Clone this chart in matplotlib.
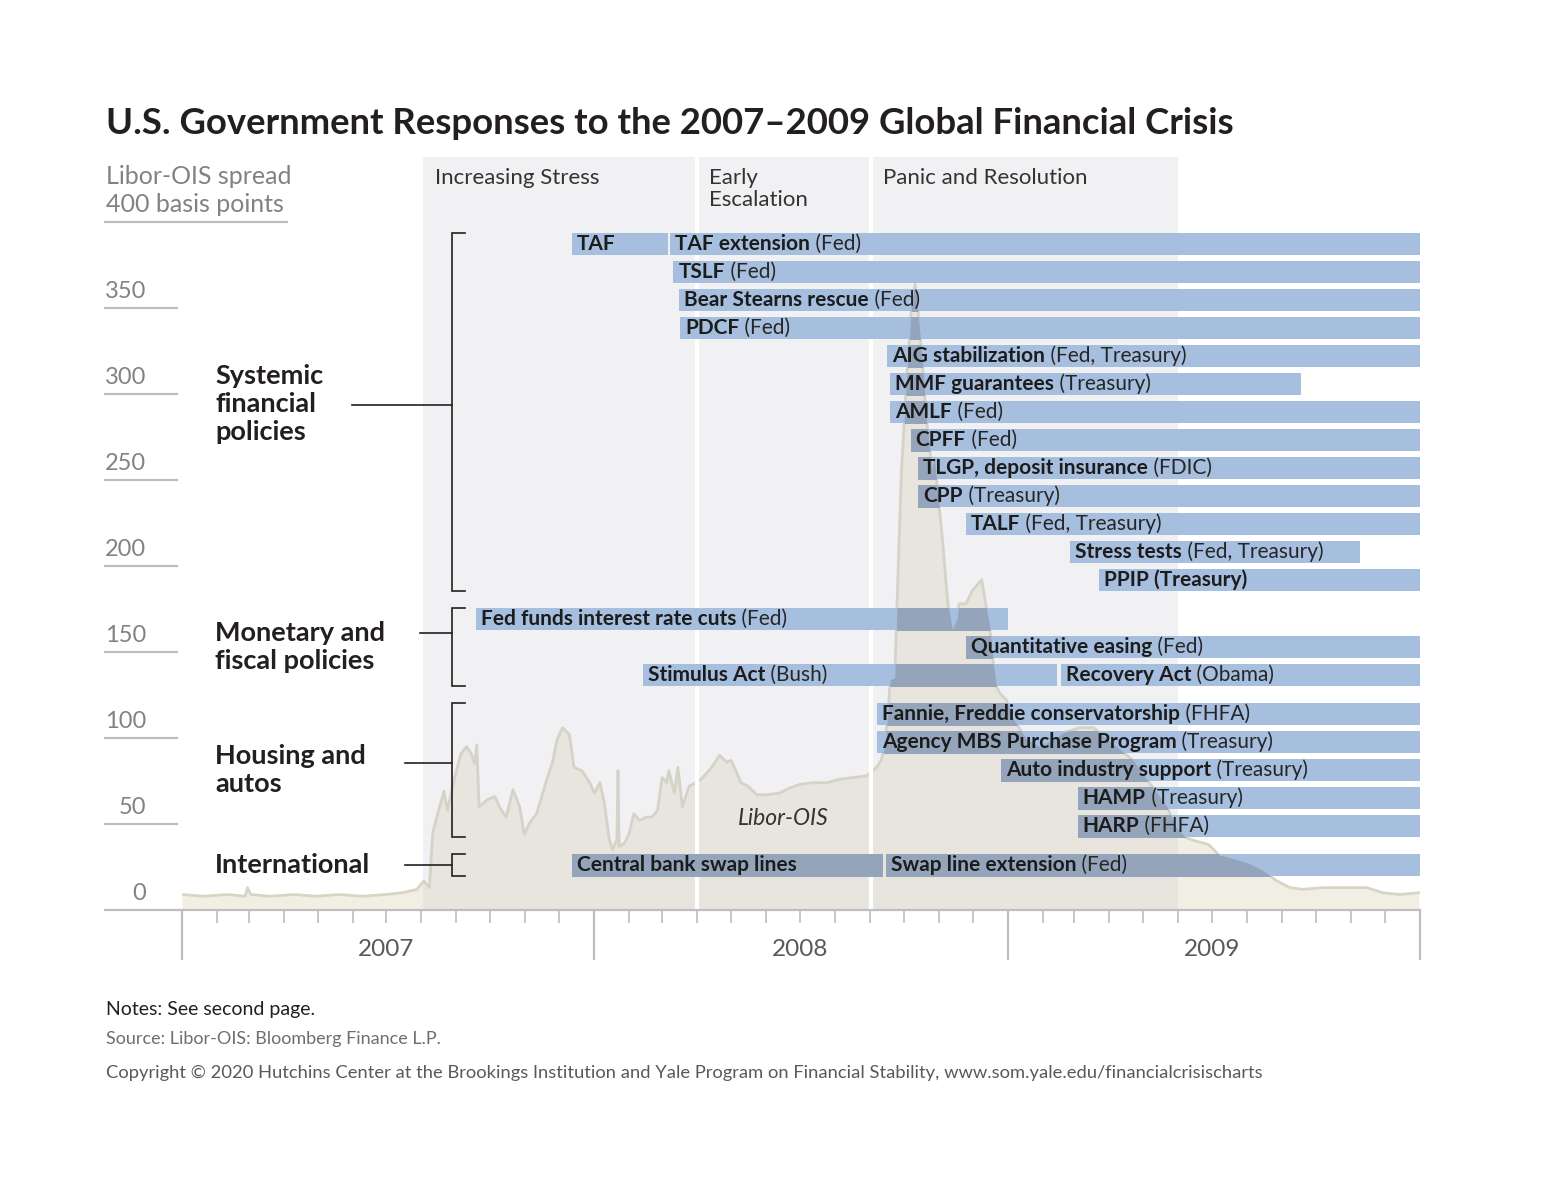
import matplotlib
matplotlib.use("Agg")
import matplotlib.pyplot as plt
import matplotlib.dates as mdates
from matplotlib.patches import Rectangle
from matplotlib.transforms import IdentityTransform, blended_transform_factory
import pandas as pd

plt.rcParams['font.family'] = ['Lato', 'DejaVu Sans']

# ===== Libor-OIS spread, basis points =====
libor_dates = [
    "2007-01-01", "2007-01-20", "2007-02-10", "2007-02-26", "2007-02-28", "2007-03-03",
    "2007-03-20", "2007-04-10", "2007-04-30", "2007-05-20", "2007-06-10", "2007-06-30",
    "2007-07-15", "2007-07-28", "2007-08-03", "2007-08-08", "2007-08-11", "2007-08-17",
    "2007-08-21", "2007-08-24", "2007-08-30", "2007-09-05", "2007-09-10", "2007-09-14",
    "2007-09-17", "2007-09-19", "2007-09-21", "2007-09-28", "2007-10-05", "2007-10-09",
    "2007-10-15", "2007-10-21", "2007-10-27", "2007-10-31", "2007-11-05", "2007-11-11",
    "2007-11-20", "2007-11-25", "2007-11-29", "2007-12-04", "2007-12-10", "2007-12-14",
    "2007-12-21", "2007-12-28", "2008-01-01", "2008-01-06", "2008-01-10", "2008-01-14",
    "2008-01-17", "2008-01-21", "2008-01-22", "2008-01-23", "2008-01-28", "2008-02-01",
    "2008-02-05", "2008-02-10", "2008-02-16", "2008-02-21", "2008-02-26", "2008-03-01",
    "2008-03-05", "2008-03-07", "2008-03-12", "2008-03-15", "2008-03-19", "2008-03-25",
    "2008-03-31", "2008-04-06", "2008-04-14", "2008-04-21", "2008-04-27", "2008-05-01",
    "2008-05-06", "2008-05-10", "2008-05-16", "2008-05-24", "2008-06-02", "2008-06-13",
    "2008-06-22", "2008-07-01", "2008-07-12", "2008-07-25", "2008-08-05", "2008-08-17",
    "2008-08-29", "2008-09-07", "2008-09-11", "2008-09-14", "2008-09-17", "2008-09-19",
    "2008-09-23", "2008-09-26", "2008-09-29", "2008-10-04", "2008-10-08", "2008-10-11",
    "2008-10-13", "2008-10-18", "2008-10-21", "2008-10-26", "2008-10-28", "2008-11-04",
    "2008-11-09", "2008-11-13", "2008-11-17", "2008-11-19", "2008-11-25", "2008-12-01",
    "2008-12-09", "2008-12-13", "2008-12-16", "2008-12-19", "2008-12-22", "2008-12-25",
    "2008-12-31", "2009-01-05", "2009-01-18", "2009-01-29", "2009-02-10", "2009-02-19",
    "2009-03-06", "2009-03-18", "2009-03-27", "2009-04-11", "2009-04-22", "2009-05-04",
    "2009-05-22", "2009-05-30", "2009-06-08", "2009-06-17", "2009-06-28", "2009-07-07",
    "2009-07-19", "2009-08-03", "2009-08-15", "2009-08-27", "2009-09-08", "2009-09-19",
    "2009-10-07", "2009-10-19", "2009-10-31", "2009-11-15", "2009-11-29", "2009-12-14",
    "2009-12-31",
]
libor_bp = [
    9, 8, 9, 8, 13, 9,
    8, 9, 8, 9, 8, 9,
    10, 12, 17, 13, 45, 60,
    69, 58, 76, 91, 95, 91,
    85, 96, 60, 64, 66, 60,
    54, 70, 60, 44, 51, 56,
    76, 86, 99, 106, 102, 83,
    81, 74, 68, 74, 62, 42,
    35, 41, 81, 37, 39, 45,
    56, 52, 54, 54, 58, 77,
    74, 81, 68, 83, 60, 72,
    74, 77, 83, 90, 86, 87,
    80, 74, 72, 67, 67, 68,
    71, 73, 74, 74, 76, 77,
    78, 83, 87, 95, 115, 134,
    135, 198, 256, 314, 353, 364,
    353, 314, 285, 256, 263, 217,
    178, 163, 169, 178, 178, 186,
    192, 176, 165, 145, 130, 126,
    122, 112, 99, 95, 99, 103,
    106, 106, 101, 93, 87, 76,
    60, 48, 42, 40, 38, 32,
    30, 27, 23, 17, 13, 12,
    13, 13, 13, 13, 10, 9,
    10,
]

# ===== Policy programs =====
bar_names = [
    "TAF", "TAF extension", "TSLF", "Bear Stearns rescue", "PDCF", "AIG stabilization",
    "MMF guarantees", "AMLF", "CPFF", "TLGP, deposit insurance", "CPP", "TALF",
    "Stress tests", "PPIP (Treasury)",
    "Fed funds interest rate cuts", "Quantitative easing", "Stimulus Act", "Recovery Act",
    "Fannie, Freddie conservatorship", "Agency MBS Purchase Program",
    "Auto industry support", "HAMP", "HARP",
    "Central bank swap lines", "Swap line extension",
]
bar_notes = [
    "", "(Fed)", "(Fed)", "(Fed)", "(Fed)", "(Fed, Treasury)",
    "(Treasury)", "(Fed)", "(Fed)", "(FDIC)", "(Treasury)", "(Fed, Treasury)",
    "(Fed, Treasury)", "",
    "(Fed)", "(Fed)", "(Bush)", "(Obama)",
    "(FHFA)", "(Treasury)",
    "(Treasury)", "(Treasury)", "(FHFA)",
    "", "(Fed)",
]
bar_starts = [
    "2007-12-12", "2008-03-08", "2008-03-11", "2008-03-16", "2008-03-17", "2008-09-16",
    "2008-09-19", "2008-09-19", "2008-10-07", "2008-10-14", "2008-10-14", "2008-11-25",
    "2009-02-25", "2009-03-23",
    "2007-09-18", "2008-11-25", "2008-02-13", "2009-02-17",
    "2008-09-07", "2008-09-07",
    "2008-12-26", "2009-03-04", "2009-03-04",
    "2007-12-12", "2008-09-15",
]
bar_ends = [
    "2008-03-06", "2010-01-01", "2010-01-01", "2010-01-01", "2010-01-01", "2010-01-01",
    "2009-09-18", "2010-01-01", "2010-01-01", "2010-01-01", "2010-01-01", "2010-01-01",
    "2009-11-09", "2010-01-01",
    "2009-01-01", "2010-01-01", "2009-02-14", "2010-01-01",
    "2010-01-01", "2010-01-01",
    "2010-01-01", "2010-01-01", "2010-01-01",
    "2008-09-12", "2010-01-01",
]
bar_rows = [0, 0, 1, 2, 3, 4, 5, 6, 7, 8, 9, 10, 11, 12,
            13, 14, 15, 15, 16, 17, 18, 19, 20, 21, 21]

group_labels = ["Systemic\nfinancial\npolicies", "Monetary and\nfiscal policies",
                "Housing and\nautos", "International"]
group_rows = [(0, 12), (13, 15), (16, 20), (21, 21)]

phase_labels = ["Increasing Stress", "Early\nEscalation", "Panic and Resolution"]
phase_bounds = ["2007-08-02", "2008-04-01", "2008-09-02", "2009-06-01"]

y_ticks = [0, 50, 100, 150, 200, 250, 300, 350]
years = ["2007", "2008", "2009"]

# ===== layout =====
W, H = 1553, 1200
ROW_TOP, ROW_STEP, BAR_H, GROUP_GAP = 387.2, 16.28, 12.8, 6.4
BAR_COLOR = "#a7bfdf"
OVERLAP_COLOR = "#93a4bb"
INK = "#231f20"
GREY = "#808285"
BAR_FS = 15


def group_of(row):
    for g, (r0, r1) in enumerate(group_rows):
        if r0 <= row <= r1:
            return g
    return 0


def row_y(row):
    return ROW_TOP - row * ROW_STEP - group_of(row) * GROUP_GAP


fig = plt.figure(figsize=(W / 100, H / 100), dpi=100)
ax = fig.add_axes([182 / W, 1 - 910 / H, (1420 - 182) / W, (910 - 157) / H])
xpx = blended_transform_factory(IdentityTransform(), ax.transData)   # x in pixels, y in bp
ypx = blended_transform_factory(ax.transData, IdentityTransform())   # x in dates, y in pixels

x_lo = mdates.date2num(pd.Timestamp("2007-01-01"))
x_hi = mdates.date2num(pd.Timestamp("2010-01-01"))
lx = mdates.date2num(pd.to_datetime(libor_dates))

# Libor-OIS area
ax.fill_between(lx, libor_bp, 0, color="#f1eee4", lw=0, zorder=1)
ax.plot(lx, libor_bp, color="#d9d5c6", lw=2, zorder=1.5)

# crisis phases
pb = mdates.date2num(pd.to_datetime(phase_bounds))
ax.axvspan(pb[0], pb[-1], color="#cbcbd0", alpha=0.25, lw=0, zorder=2)
for b in pb[1:-1]:
    ax.axvline(b, color="white", lw=3, zorder=3)
for label, b in zip(phase_labels, pb[:-1]):
    ax.annotate(label, xy=(b, 1), xycoords=("data", "axes fraction"), xytext=(12, -11),
                textcoords="offset pixels", ha="left", va="top", fontsize=16,
                color="#333333", linespacing=1.15)

# policy bars
for name, note, s, e, row in zip(bar_names, bar_notes, bar_starts, bar_ends, bar_rows):
    d0 = mdates.date2num(pd.Timestamp(s))
    d1 = mdates.date2num(pd.Timestamp(e))
    y = row_y(row)
    rect = Rectangle((d0, y - BAR_H / 2), d1 - d0, BAR_H, color=BAR_COLOR, lw=0, zorder=4)
    ax.add_patch(rect)
    dark = ax.fill_between(lx, libor_bp, 0, color=OVERLAP_COLOR, lw=0, zorder=5)
    dark.set_clip_path(rect)
    t = ax.annotate(name, xy=(d0, y), xytext=(5, 0), textcoords="offset pixels",
                    ha="left", va="center", fontsize=BAR_FS, fontweight="bold",
                    color="#1c1c1c", zorder=6)
    if note:
        ax.annotate(" " + note, xy=(1, 0), xycoords=t, ha="left", va="bottom",
                    fontsize=BAR_FS, color="#262626", zorder=6)

# brackets and group labels
stem_x = [352, 420, 405, 405]
stem_shift = [0.25, 0.5, 0.25, 0]
label_shift = [0.3, 0, 0, 0]
for (r0, r1), label, sx, sh, lsh in zip(group_rows, group_labels, stem_x, stem_shift,
                                        label_shift):
    top = row_y(r0) + BAR_H / 2
    bot = row_y(r1) - BAR_H / 2
    ax.plot([465, 452, 452, 465], [top, top, bot, bot], transform=xpx, color=INK,
            lw=1.2, clip_on=False, solid_joinstyle="miter")
    mid = (top + bot) / 2
    ys = mid + sh * ROW_STEP
    ax.plot([sx, 452], [ys, ys], transform=xpx, color=INK, lw=1.2, clip_on=False)
    ax.text(215, mid + lsh * ROW_STEP, label, transform=xpx, ha="left", va="center",
            fontsize=19.5, fontweight="bold", color=INK, linespacing=1.2)

ax.text(mdates.date2num(pd.Timestamp("2008-06-16")), 53, "Libor-OIS", ha="center",
        va="center", fontsize=16.5, style="italic", color="#333333", zorder=3)

# y scale on the left
for v in y_ticks:
    ax.plot([105, 1420 if v == 0 else 177], [v, v], transform=xpx, color="#bcbec0",
            lw=1.6, clip_on=False, zorder=3)
    ax.annotate(str(v), xy=(146, v), xycoords=xpx, xytext=(0, 6),
                textcoords="offset pixels", ha="right", va="bottom", fontsize=17,
                color=GREY, annotation_clip=False)
ax.plot([105, 287], [400, 400], transform=xpx, color="#bcbec0", lw=1.6, clip_on=False)
fig.text(106 / W, 1 - 177 / H, "Libor-OIS spread", ha="left", va="center",
         fontsize=18, color=GREY)
fig.text(106 / W, 1 - 204 / H, "400 basis points", ha="left", va="center",
         fontsize=18, color=GREY)

# x axis: monthly ticks, long year ticks
ax.xaxis.set_major_locator(mdates.YearLocator())
ax.xaxis.set_minor_locator(mdates.MonthLocator())
ax.tick_params(axis="x", which="major", length=36, width=1.6, color="#bcbec0",
               labelbottom=False)
ax.tick_params(axis="x", which="minor", length=9, width=1.2, color="#bcbec0")
ax.set_yticks([])
for sp in ax.spines.values():
    sp.set_visible(False)
for yr in years:
    ax.text(mdates.date2num(pd.Timestamp(yr + "-07-01")), H - 950, yr, transform=ypx,
            ha="center", va="center", fontsize=17.5, color="#58595b")

ax.set_xlim(x_lo, x_hi)
ax.set_ylim(0, (910 - 157) / 1.72)
ax.set_facecolor("none")

# title and footer
fig.text(106 / W, 1 - 134 / H, "U.S. Government Responses to the 2007\u20132009 Global Financial Crisis",
         ha="left", va="baseline", fontsize=26.3, fontweight="bold", color=INK)
fig.text(106 / W, 1 - 1009 / H, "Notes: See second page.", ha="left", va="center",
         fontsize=14, color=INK)
fig.text(106 / W, 1 - 1039 / H, "Source: Libor-OIS: Bloomberg Finance L.P.", ha="left",
         va="center", fontsize=13, color="#6d6e71")
fig.text(106 / W, 1 - 1073 / H,
         "Copyright \u00a9 2020 Hutchins Center at the Brookings Institution and Yale Program on "
         "Financial Stability, www.som.yale.edu/financialcrisischarts",
         ha="left", va="center", fontsize=13.2, color="#58595b")

fig.savefig("out.png", dpi=100, facecolor="white")
